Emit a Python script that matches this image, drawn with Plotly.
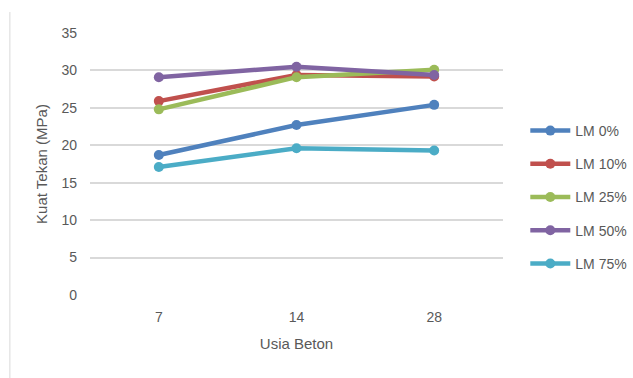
import plotly.graph_objects as go

categories = ["7", "14", "28"]
series_names = ["LM 0%", "LM 10%", "LM 25%", "LM 50%", "LM 75%"]
lm0 = [18.7, 22.7, 25.4]
lm10 = [25.9, 29.4, 29.2]
lm25 = [24.8, 29.1, 30.1]
lm50 = [29.1, 30.5, 29.4]
lm75 = [17.1, 19.6, 19.3]
colors = ["#4F81BD", "#C0504D", "#9BBB59", "#8064A2", "#4BACC6"]

values = [lm0, lm10, lm25, lm50, lm75]

fig = go.Figure()
for i, (name, vals) in enumerate(zip(series_names, values)):
    fig.add_trace(go.Scatter(
        x=categories, y=vals, name=name, mode="lines+markers",
        line=dict(color=colors[i], width=4.5),
        marker=dict(color=colors[i], size=10),
        legendgroup=name,
    ))

font_family = "Liberation Sans, Arial, sans-serif"
fig.update_layout(
    width=633, height=378,
    margin=dict(l=90, r=130, t=33, b=83, autoexpand=False),
    paper_bgcolor="white", plot_bgcolor="white",
    font=dict(family=font_family, color="#595959", size=14),
    showlegend=True,
    legend=dict(x=1.054, y=0.374, yanchor="middle", xanchor="left",
                font=dict(size=14, color="#595959"),
                tracegroupgap=12, itemwidth=40),
    xaxis=dict(type="category", range=[-0.5, 2.5], showgrid=False, zeroline=False, showline=False,
               ticks="", tickfont=dict(size=14, color="#595959"), ticklabelstandoff=12,
               title=dict(text="Usia Beton", font=dict(size=15, color="#595959"), standoff=14)),
    yaxis=dict(range=[0, 35], dtick=5, showgrid=True, gridcolor="#D9D9D9", gridwidth=1.5,
               zeroline=False, showline=False, ticks="",
               tickfont=dict(size=14, color="#595959"), ticklabelstandoff=12,
               title=dict(text="Kuat Tekan (MPa)", font=dict(size=15, color="#595959"), standoff=10)),
)
fig.add_shape(type="line", xref="paper", yref="paper", x0=-0.194, x1=-0.194, y0=-0.32, y1=1.08,
              line=dict(color="#D9D9D9", width=1))
fig.write_html("out.html")
